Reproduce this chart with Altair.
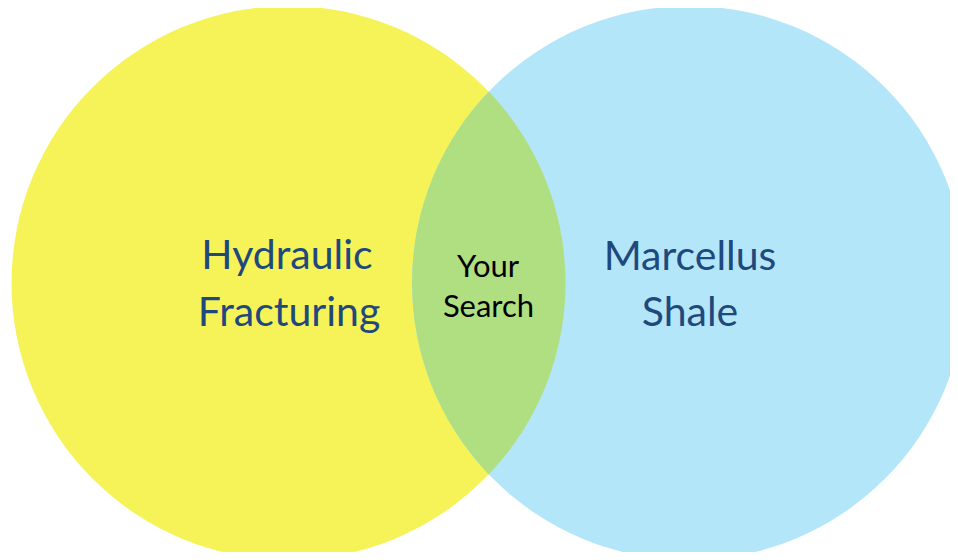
import math
import altair as alt
import pandas as pd

# Circles (reference pixel coordinates)
circle_names = ["Hydraulic Fracturing", "Marcellus Shale"]
circle_x = [288.5, 689]
circle_y = [283, 283]
circle_r = [277, 277]
circle_colors = ["#F6F358", "#B4E6F9"]
lens_color = "#B0DF82"

# Labels
label_text = ["Hydraulic", "Fracturing", "Marcellus", "Shale", "Your", "Search"]
label_x = [287, 289, 690, 690, 488, 488.5]
label_y = [269, 326, 270, 326, 277, 317]
label_size = [41, 41, 41, 41, 31, 31]
label_color = ["#1F497D", "#1F497D", "#1F497D", "#1F497D", "#000000", "#000000"]

W, H = 942, 544
xs = alt.Scale(domain=[8, 8 + W], nice=False, zero=False)
ys = alt.Scale(domain=[8, 8 + H], nice=False, zero=False, reverse=True)

circles = pd.DataFrame({
    "name": circle_names,
    "x": circle_x,
    "y": circle_y,
    "size": [(2 * r) ** 2 for r in circle_r],
    "color": circle_colors,
})

circle_layer = alt.Chart(circles).mark_point(
    shape="circle", filled=True, opacity=1, strokeWidth=0
).encode(
    x=alt.X("x:Q", scale=xs, axis=None),
    y=alt.Y("y:Q", scale=ys, axis=None),
    size=alt.Size("size:Q", scale=None, legend=None),
    color=alt.Color("color:N", scale=None),
    order=alt.Order("x:Q"),
)

# Lens (intersection) as a custom symbol path in unit coordinates (radius = 1)
r = circle_r[0]
d = circle_x[1] - circle_x[0]
h = math.sqrt(1 - (d / (2 * r)) ** 2)
lens_path = f"M0,{-h:.4f}A1,1 0 0,1 0,{h:.4f}A1,1 0 0,1 0,{-h:.4f}Z"
lens = pd.DataFrame({
    "x": [(circle_x[0] + circle_x[1]) / 2],
    "y": [circle_y[0]],
    "size": [(2 * r) ** 2],
})
lens_layer = alt.Chart(lens).mark_point(
    shape=lens_path, filled=True, opacity=1, strokeWidth=0, color=lens_color
).encode(
    x=alt.X("x:Q", scale=xs, axis=None),
    y=alt.Y("y:Q", scale=ys, axis=None),
    size=alt.Size("size:Q", scale=None, legend=None),
)

labels = pd.DataFrame({
    "text": label_text,
    "x": label_x,
    "y": label_y,
    "size": label_size,
    "color": label_color,
})
text_layer = alt.Chart(labels).mark_text(
    align="center", baseline="alphabetic", font="Lato"
).encode(
    x=alt.X("x:Q", scale=xs, axis=None),
    y=alt.Y("y:Q", scale=ys, axis=None),
    text="text:N",
    size=alt.Size("size:Q", scale=None, legend=None),
    color=alt.Color("color:N", scale=None),
)

chart = alt.layer(circle_layer, lens_layer, text_layer).properties(
    width=W, height=H, padding=0, autosize=alt.AutoSizeParams(type="none"),
    background="white",
).configure_view(stroke=None)

chart.save("out.html", embed_options={"renderer": "svg", "actions": False})
